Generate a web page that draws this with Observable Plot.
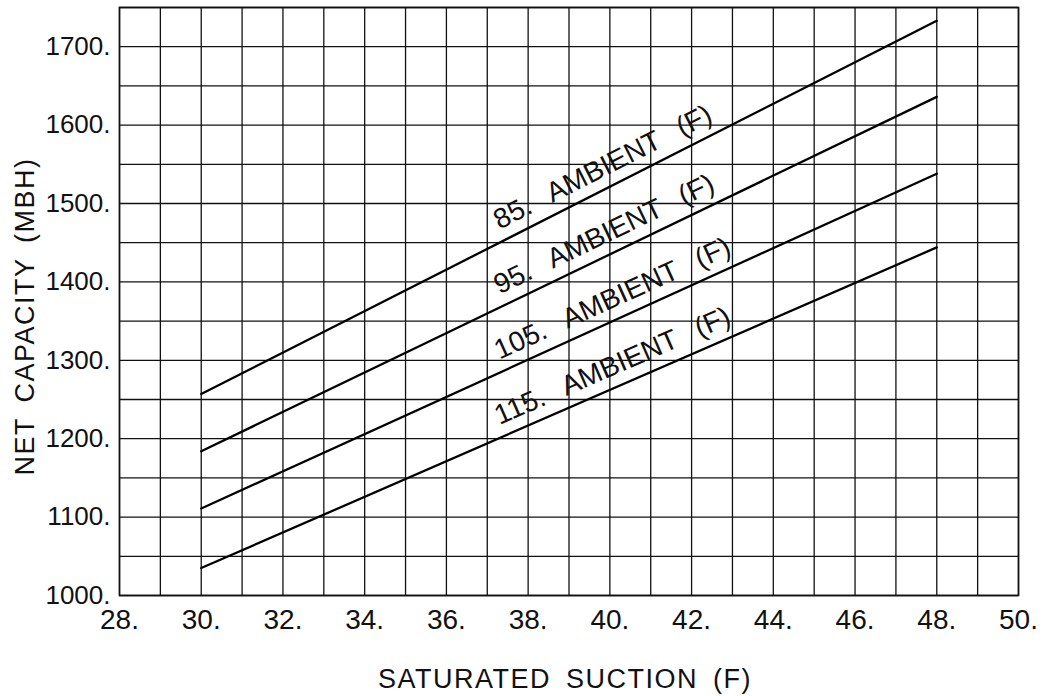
<!DOCTYPE html>
<html>
<head>
<meta charset="utf-8">
<script src="https://cdn.jsdelivr.net/npm/d3@7"></script>
<script src="https://cdn.jsdelivr.net/npm/@observablehq/plot@0.6"></script>
<style>
  html, body { margin: 0; padding: 0; background: #fff; }
  svg text { font-family: "Liberation Sans", Arial, sans-serif; fill: #111; }
  g[aria-description="ambient"] text { word-spacing: 14px; }
  g[aria-description="title"] text { letter-spacing: 1.5px; word-spacing: 6px; }
</style>
</head>
<body>
<div id="chart"></div>
<script>
// ---- data ----
const ambients = ["85.", "95.", "105.", "115."];
const suction = [30, 48];                 // saturated suction (F), line endpoints
const cap85  = [1257, 1733];              // net capacity (MBH)
const cap95  = [1184, 1636];
const cap105 = [1111, 1538];
const cap115 = [1035, 1444];
const xTicks = [28, 30, 32, 34, 36, 38, 40, 42, 44, 46, 48, 50];
const yTicks = [1000, 1100, 1200, 1300, 1400, 1500, 1600, 1700];
const xGrid = d3.range(28, 51, 1);
const yGrid = d3.range(1000, 1751, 50);
const labelStartX = 37.3;
const xTitle = "SATURATED SUCTION (F)";
const yTitle = "NET CAPACITY (MBH)";

// ---- layout ----
const W = 1054, H = 696;
const mL = 119, mR = 36, mT = 7, mB = 101;
const xDomain = [28, 50], yDomain = [1000, 1750];
const pxX = (W - mL - mR) / (xDomain[1] - xDomain[0]);
const pxY = (H - mT - mB) / (yDomain[1] - yDomain[0]);

const series = [cap85, cap95, cap105, cap115];
const rows = [];
series.forEach((vals, i) => {
  suction.forEach((s, j) => rows.push({ambient: ambients[i], x: s, y: vals[j]}));
});

const labels = series.map((vals, i) => {
  const t = (labelStartX - suction[0]) / (suction[1] - suction[0]);
  const yv = vals[0] + t * (vals[1] - vals[0]);
  const ang = Math.atan(((vals[1] - vals[0]) * pxY) / ((suction[1] - suction[0]) * pxX)) * 180 / Math.PI;
  return {x: labelStartX, y: yv, text: ambients[i] + " AMBIENT (F)", rotate: -ang};
});

const chart = Plot.plot({
  width: W,
  height: H,
  marginLeft: mL,
  marginRight: mR,
  marginTop: mT,
  marginBottom: mB,
  x: {domain: xDomain, axis: null},
  y: {domain: yDomain, axis: null},
  marks: [
    Plot.ruleX(xGrid, {x: d => d, stroke: "#111", strokeWidth: 1.3}),
    Plot.ruleY(yGrid, {y: d => d, stroke: "#111", strokeWidth: 1.3}),
    Plot.frame({stroke: "#111", strokeWidth: 1.6}),
    Plot.line(rows, {x: "x", y: "y", z: "ambient", stroke: "#000", strokeWidth: 2.3}),
    Plot.text(labels, {
      x: "x", y: "y", text: "text", rotate: "rotate",
      textAnchor: "start", lineAnchor: "bottom", dy: -13,
      fontSize: 28, ariaDescription: "ambient"
    }),
    Plot.text(xTicks, {
      x: d => d, text: d => d + ".", frameAnchor: "bottom",
      textAnchor: "middle", lineAnchor: "top", dy: 14, fontSize: 28
    }),
    Plot.text(yTicks, {
      y: d => d, text: d => d + ".", frameAnchor: "left",
      textAnchor: "end", dx: -9, fontSize: 26
    }),
    Plot.text([xTitle], {
      text: d => d, frameAnchor: "bottom", textAnchor: "middle", lineAnchor: "bottom",
      dy: 92, dx: -4, fontSize: 27, ariaDescription: "title"
    }),
    Plot.text([yTitle], {
      text: d => d, frameAnchor: "left", textAnchor: "middle", lineAnchor: "bottom",
      rotate: -90, dx: -86, dy: 15, fontSize: 27, ariaDescription: "title"
    })
  ]
});

document.getElementById("chart").appendChild(chart);
</script>
</body>
</html>
